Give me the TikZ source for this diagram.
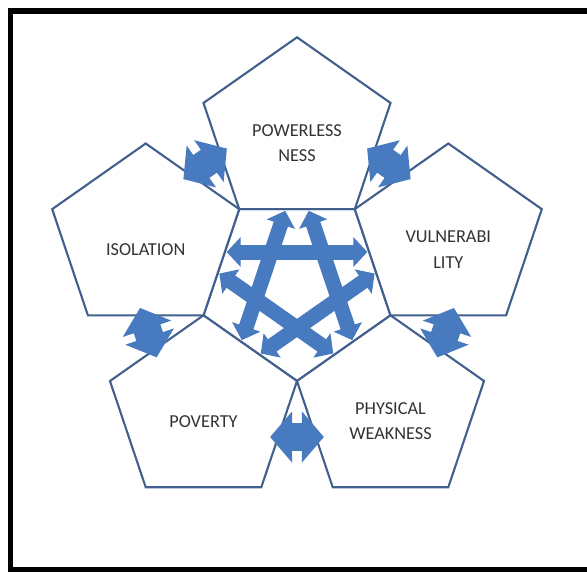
\documentclass[tikz,border=0pt]{standalone}
\usepackage{fontspec}
\setmainfont{Carlito}
\usetikzlibrary{arrows.meta,calc}
\definecolor{pentline}{RGB}{66,96,142}
\definecolor{arrowblue}{RGB}{72,122,192}

\begin{document}
\begin{tikzpicture}[x=.02cm,y=.02cm,font=\fontsize{10.4}{14.4}\selectfont,
 pent/.style={draw=pentline,line width=1.2pt,fill=white},
 gaparrow/.style={draw=arrowblue,line width=.56cm,{Triangle[width=1cm,length=.44cm]}-{Triangle[width=1cm,length=.44cm]}},
 stararrow/.style={draw=arrowblue,line width=.3cm,{Triangle[width=.58cm,length=.28cm]}-{Triangle[width=.58cm,length=.28cm]}}]
\useasboundingbox (0,0) rectangle (587,572);
\clip (0,0) rectangle (587,572);
\draw[line width=3pt] (600,561) -- (10.5,561) -- (10.5,2.5) -- (600,2.5);
\begin{scope}[shift={(297,286)},xscale=1.035]
\draw[pent] (54:95) -- (126:95) -- (198:95) -- (270:95) -- (342:95) -- cycle;
\foreach \a in {18,90,162,234,306}
 \draw[pent,shift={(\a:153.7)}] (90:95) -- (162:95) -- (234:95) -- (306:95) -- (18:95) -- cycle;
\foreach \a/\n/\t in {90/pow/{POWERLESS\\NESS},162/iso/{ISOLATION},18/vul/{VULNERABI\\LITY},234/pov/{POVERTY},306/phy/{PHYSICAL\\WEAKNESS}}
 \node[align=center,text=black!80] (\n) at ($(\a:153.7)+(0,-11)$) {\t};
\foreach \a in {54,126,198,270,342}{
 \coordinate (g\a-l) at ($(\a:151)+(\a+90:26)$);
 \coordinate (g\a-r) at ($(\a:151)+(\a-90:26)$);
 \draw[gaparrow] (g\a-l) -- (g\a-r);
}
\foreach \p in {90,162,234,306,18}{
 \coordinate (s\p) at ($(\p:34)+(\p+90:68)$);
 \coordinate (e\p) at ($(\p:34)+(\p-90:68)$);
 \draw[stararrow] (s\p) -- (e\p);
}
\end{scope}
\end{tikzpicture}
\end{document}
